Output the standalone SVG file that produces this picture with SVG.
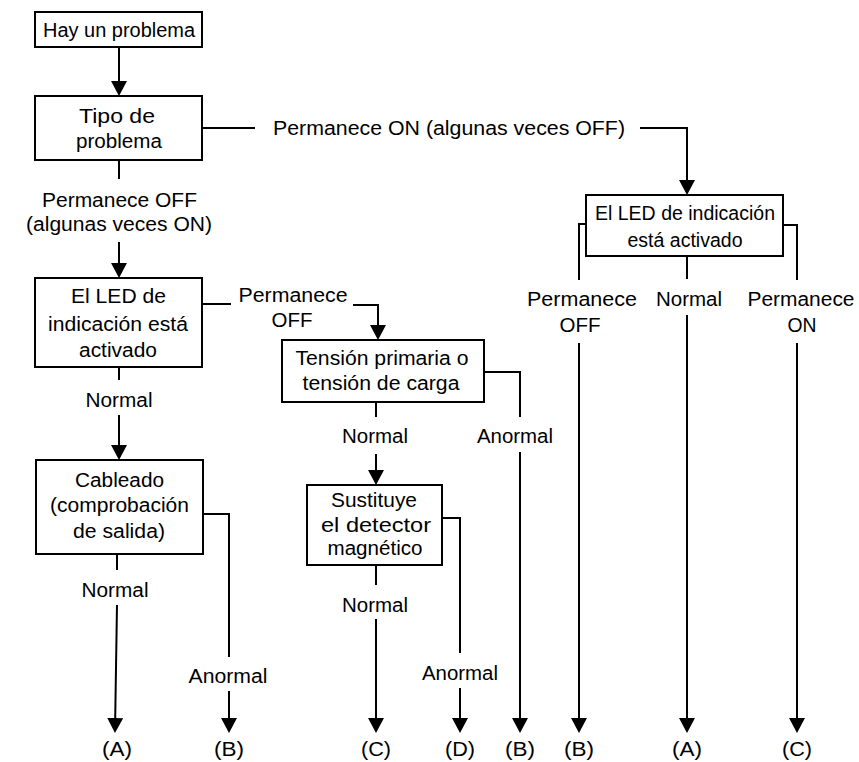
<svg xmlns="http://www.w3.org/2000/svg" width="859" height="762" viewBox="0 0 859 762">
<style>
.box{fill:#fff;stroke:#000;stroke-width:2}
.ln{fill:none;stroke:#000;stroke-width:2}
.ar{fill:none;stroke:#000;stroke-width:2;marker-end:url(#ah)}
text{font-family:"Liberation Sans",Arial,sans-serif;font-size:20px;fill:#000;text-anchor:middle}
</style>
<defs>
<marker id="ah" markerUnits="userSpaceOnUse" markerWidth="16" markerHeight="16" refX="13" refY="8" orient="auto" viewBox="0 0 16 16">
<path d="M0,0 L15,8 L0,16 z" fill="#000"/>
</marker>
</defs>
<rect width="859" height="762" fill="#fff"/>
<g id="connectors">
<path class="ar" d="M119,47 V94"/>
<path class="ln" d="M202,128 H255"/>
<path class="ar" d="M640,128 H687 V193"/>
<path class="ln" d="M119,160 V179"/>
<path class="ar" d="M119,242 V276"/>
<path class="ln" d="M202,304 H231"/>
<path class="ar" d="M353,305 H378 V338"/>
<path class="ln" d="M119,367 V380"/>
<path class="ar" d="M119,415 V458"/>
<path class="ln" d="M117,554 V570"/>
<path class="ar" d="M117,605 L115,731"/>
<path class="ln" d="M203,514 H229 V657"/>
<path class="ar" d="M229,691 V731"/>
<path class="ln" d="M484,372 H520 V417"/>
<path class="ar" d="M520,452 V731"/>
<path class="ln" d="M376,402 V417"/>
<path class="ar" d="M376,454 V483"/>
<path class="ln" d="M442,518 H460 V653"/>
<path class="ar" d="M460,688 V731"/>
<path class="ln" d="M376,565 V585"/>
<path class="ar" d="M376,619 V731"/>
<path class="ln" d="M586,224 H579 V280"/>
<path class="ar" d="M579,343 V731"/>
<path class="ln" d="M687,256 V279"/>
<path class="ar" d="M687,315 V731"/>
<path class="ln" d="M783,225 H797 V280"/>
<path class="ar" d="M797,343 V731"/>
</g>
<g id="labels">
<text x="449" y="135" textLength="352" lengthAdjust="spacingAndGlyphs">Permanece ON (algunas veces OFF)</text>
<text x="119.5" y="207" textLength="155" lengthAdjust="spacingAndGlyphs">Permanece OFF</text>
<text x="119" y="231" textLength="186" lengthAdjust="spacingAndGlyphs">(algunas veces ON)</text>
<text x="293" y="302" textLength="109" lengthAdjust="spacingAndGlyphs">Permanece</text>
<text x="292" y="327" textLength="41" lengthAdjust="spacingAndGlyphs">OFF</text>
<text x="119" y="407" textLength="67" lengthAdjust="spacingAndGlyphs">Normal</text>
<text x="375" y="443" textLength="66" lengthAdjust="spacingAndGlyphs">Normal</text>
<text x="515" y="443" textLength="76" lengthAdjust="spacingAndGlyphs">Anormal</text>
<text x="115" y="597" textLength="67" lengthAdjust="spacingAndGlyphs">Normal</text>
<text x="228" y="683" textLength="79" lengthAdjust="spacingAndGlyphs">Anormal</text>
<text x="375" y="612" textLength="66" lengthAdjust="spacingAndGlyphs">Normal</text>
<text x="460" y="680" textLength="76" lengthAdjust="spacingAndGlyphs">Anormal</text>
<text x="582" y="306" textLength="110" lengthAdjust="spacingAndGlyphs">Permanece</text>
<text x="580" y="332" textLength="41" lengthAdjust="spacingAndGlyphs">OFF</text>
<text x="689" y="306" textLength="66" lengthAdjust="spacingAndGlyphs">Normal</text>
<text x="801" y="306" textLength="107" lengthAdjust="spacingAndGlyphs">Permanece</text>
<text x="802" y="332" textLength="29" lengthAdjust="spacingAndGlyphs">ON</text>
<text x="117" y="756" textLength="30" lengthAdjust="spacingAndGlyphs">(A)</text>
<text x="229" y="756" textLength="30" lengthAdjust="spacingAndGlyphs">(B)</text>
<text x="376" y="756" textLength="30" lengthAdjust="spacingAndGlyphs">(C)</text>
<text x="460" y="756" textLength="30" lengthAdjust="spacingAndGlyphs">(D)</text>
<text x="520" y="756" textLength="30" lengthAdjust="spacingAndGlyphs">(B)</text>
<text x="579" y="756" textLength="30" lengthAdjust="spacingAndGlyphs">(B)</text>
<text x="687" y="756" textLength="30" lengthAdjust="spacingAndGlyphs">(A)</text>
<text x="797" y="756" textLength="30" lengthAdjust="spacingAndGlyphs">(C)</text>
</g>
<g id="n1">
<rect class="box" x="35" y="12" width="167" height="35"/>
<text x="119" y="37" textLength="152" lengthAdjust="spacingAndGlyphs">Hay un problema</text>
</g>
<g id="n2">
<rect class="box" x="35" y="96" width="167" height="64"/>
<text x="117" y="123" textLength="76" lengthAdjust="spacingAndGlyphs">Tipo de</text>
<text x="119" y="148" textLength="86" lengthAdjust="spacingAndGlyphs">problema</text>
</g>
<g id="n3">
<rect class="box" x="35" y="278" width="167" height="89"/>
<text x="118.5" y="303" textLength="95" lengthAdjust="spacingAndGlyphs">El LED de</text>
<text x="118" y="331" textLength="140" lengthAdjust="spacingAndGlyphs">indicación está</text>
<text x="118" y="357" textLength="78" lengthAdjust="spacingAndGlyphs">activado</text>
</g>
<g id="n4">
<rect class="box" x="282" y="340" width="202" height="62"/>
<text x="382" y="365" textLength="173" lengthAdjust="spacingAndGlyphs">Tensión primaria o</text>
<text x="381" y="390" textLength="157" lengthAdjust="spacingAndGlyphs">tensión de carga</text>
</g>
<g id="n5">
<rect class="box" x="307" y="485" width="135" height="80"/>
<text x="374" y="507" textLength="86" lengthAdjust="spacingAndGlyphs">Sustituye</text>
<text x="376" y="532" textLength="110" lengthAdjust="spacingAndGlyphs">el detector</text>
<text x="375" y="555" textLength="95" lengthAdjust="spacingAndGlyphs">magnético</text>
</g>
<g id="n6">
<rect class="box" x="36" y="460" width="167" height="94"/>
<text x="119.5" y="487" textLength="89" lengthAdjust="spacingAndGlyphs">Cableado</text>
<text x="119.5" y="512" textLength="139" lengthAdjust="spacingAndGlyphs">(comprobación</text>
<text x="119" y="538" textLength="92" lengthAdjust="spacingAndGlyphs">de salida)</text>
</g>
<g id="n7">
<rect class="box" x="586" y="195" width="197" height="61"/>
<text x="685" y="220" textLength="180" lengthAdjust="spacingAndGlyphs">El LED de indicación</text>
<text x="685" y="247" textLength="115" lengthAdjust="spacingAndGlyphs">está activado</text>
</g>
</svg>
